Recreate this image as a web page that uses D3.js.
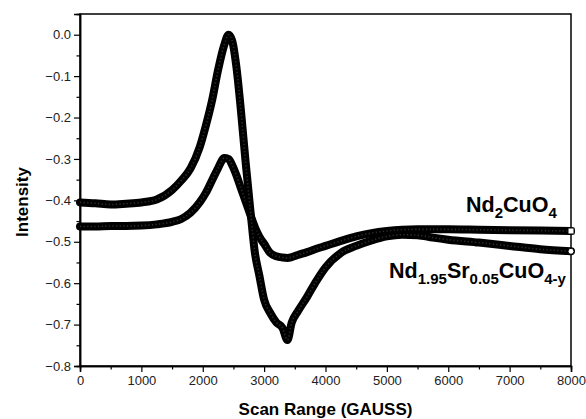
<!DOCTYPE html>
<html>
<head>
<meta charset="utf-8">
<script src="https://cdn.jsdelivr.net/npm/d3@7"></script>
<style>
  html, body { margin: 0; padding: 0; background: #fff; }
  svg { display: block; }
  text { font-family: "Liberation Sans", Arial, sans-serif; }
</style>
</head>
<body>
<svg id="chart" width="586" height="419"></svg>
<script>
// Magnetic field sweep (gauss)
const field = [0, 250, 500, 750, 1000, 1250, 1500, 1650, 1800, 1950, 2050, 2150, 2250, 2350, 2420,
  2480, 2550, 2620, 2700, 2780, 2850, 2920, 3000, 3100, 3200, 3300, 3380, 3450, 3550, 3700,
  3850, 4000, 4250, 4500, 4750, 5000, 5250, 5500, 5750, 6000, 6500, 7000, 7500, 8000];

// ESR signal of Nd2CuO4
const nd2cuo4 = [-0.463, -0.463, -0.462, -0.462, -0.461, -0.458, -0.452, -0.445, -0.430, -0.405, -0.382, -0.352, -0.322, -0.298, -0.300,
  -0.315, -0.340, -0.370, -0.403, -0.437, -0.465, -0.487, -0.505, -0.527, -0.535, -0.538, -0.539, -0.537, -0.532, -0.525,
  -0.517, -0.510, -0.498, -0.487, -0.479, -0.474, -0.471, -0.470, -0.470, -0.470, -0.471, -0.472, -0.473, -0.474];

// ESR signal of Nd1.95Sr0.05CuO4-y
const ndSrCuo4 = [-0.405, -0.407, -0.410, -0.408, -0.405, -0.398, -0.375, -0.352, -0.323, -0.272, -0.220, -0.160, -0.085, -0.025, 0.000,
  -0.015, -0.080, -0.180, -0.310, -0.430, -0.527, -0.580, -0.640, -0.672, -0.695, -0.708, -0.737, -0.695, -0.668, -0.633,
  -0.595, -0.562, -0.527, -0.510, -0.497, -0.487, -0.483, -0.484, -0.490, -0.495, -0.502, -0.510, -0.518, -0.523];

const xTicks = [0, 1000, 2000, 3000, 4000, 5000, 6000, 7000, 8000];
const yTicks = [0.0, -0.1, -0.2, -0.3, -0.4, -0.5, -0.6, -0.7, -0.8];

const svg = d3.select("#chart");
const margin = { left: 80, right: 15, top: 14, bottom: 53 };
const W = 586, H = 419;

const x = d3.scaleLinear().domain([0, 8000]).range([margin.left, W - margin.right]);
const y = d3.scaleLinear().domain([-0.8, 0.05]).range([H - margin.bottom, margin.top]);

// Frame
svg.append("rect")
  .attr("x", x(0)).attr("y", y(0.05))
  .attr("width", x(8000) - x(0)).attr("height", y(-0.8) - y(0.05))
  .attr("fill", "none").attr("stroke", "#000").attr("stroke-width", 1.5);

// Bottom axis: major ticks with labels, minor ticks halfway
svg.append("g").attr("transform", `translate(0,${y(-0.8)})`)
  .call(d3.axisBottom(x).tickValues(xTicks).tickFormat(d3.format("d")).tickSize(6).tickPadding(4));
svg.append("g").attr("transform", `translate(0,${y(-0.8)})`)
  .call(d3.axisBottom(x).tickValues(d3.range(500, 8000, 1000)).tickFormat("").tickSize(3.5));

// Left axis
svg.append("g").attr("transform", `translate(${x(0)},0)`)
  .call(d3.axisLeft(y).tickValues(yTicks).tickFormat(d3.format(".1f")).tickSize(6).tickPadding(3));
svg.append("g").attr("transform", `translate(${x(0)},0)`)
  .call(d3.axisLeft(y).tickValues(d3.range(-0.75, 0.01, 0.1)).tickFormat("").tickSize(3.5));

svg.selectAll(".domain").attr("stroke", "#000").attr("stroke-width", 1.5);
svg.selectAll(".tick line").attr("stroke", "#000").attr("stroke-width", 1.2);
svg.selectAll(".tick text").attr("font-size", 13).attr("fill", "#222")
  .attr("font-family", "'Liberation Sans', Arial, sans-serif");

// Series drawn as dense thick traces
const line = d3.line().x((d, i) => x(field[i])).y(d => y(d)).curve(d3.curveMonotoneX);

const series = [
  { values: nd2cuo4 },
  { values: ndSrCuo4 }
];

series.forEach(s => {
  svg.append("path").datum(s.values)
    .attr("d", line)
    .attr("fill", "none").attr("stroke", "#000")
    .attr("stroke-width", 8).attr("stroke-linejoin", "round").attr("stroke-linecap", "round");
  svg.append("path").datum(s.values)
    .attr("d", line)
    .attr("fill", "none").attr("stroke", "#555")
    .attr("stroke-width", 1.6).attr("stroke-dasharray", "1.2,2.4").attr("opacity", 0.55);
});

// Open end markers
const last = field.length - 1;
svg.append("rect")
  .attr("x", x(field[last]) - 3).attr("y", y(nd2cuo4[last]) - 3)
  .attr("width", 6).attr("height", 6)
  .attr("fill", "#fff").attr("stroke", "#000").attr("stroke-width", 1);
svg.append("circle")
  .attr("cx", x(field[last])).attr("cy", y(ndSrCuo4[last])).attr("r", 3)
  .attr("fill", "#fff").attr("stroke", "#000").attr("stroke-width", 1);

// Series labels
const big = 21.5, small = 15, shift = 6;
const label1 = svg.append("text").attr("x", 466).attr("y", 212)
  .attr("font-size", big).attr("font-weight", "bold").attr("fill", "#000");
label1.append("tspan").text("Nd");
label1.append("tspan").text("2").attr("font-size", small).attr("dy", shift);
label1.append("tspan").text("CuO").attr("dy", -shift);
label1.append("tspan").text("4").attr("font-size", small).attr("dy", shift);

const label2 = svg.append("text").attr("x", 389).attr("y", 278)
  .attr("font-size", big).attr("font-weight", "bold").attr("fill", "#000");
label2.append("tspan").text("Nd");
label2.append("tspan").text("1.95").attr("font-size", small).attr("dy", shift);
label2.append("tspan").text("Sr").attr("dy", -shift);
label2.append("tspan").text("0.05").attr("font-size", small).attr("dy", shift);
label2.append("tspan").text("CuO").attr("dy", -shift);
label2.append("tspan").text("4-y").attr("font-size", small).attr("dy", shift);

// Axis titles
svg.append("text").attr("x", (x(0) + x(8000)) / 2).attr("y", 415)
  .attr("text-anchor", "middle").attr("font-size", 17).attr("font-weight", "bold")
  .text("Scan Range (GAUSS)");
svg.append("text")
  .attr("transform", `translate(28,${(y(0.05) + y(-0.8)) / 2 + 12}) rotate(-90)`)
  .attr("text-anchor", "middle").attr("font-size", 17).attr("font-weight", "bold")
  .text("Intensity");
</script>
</body>
</html>
